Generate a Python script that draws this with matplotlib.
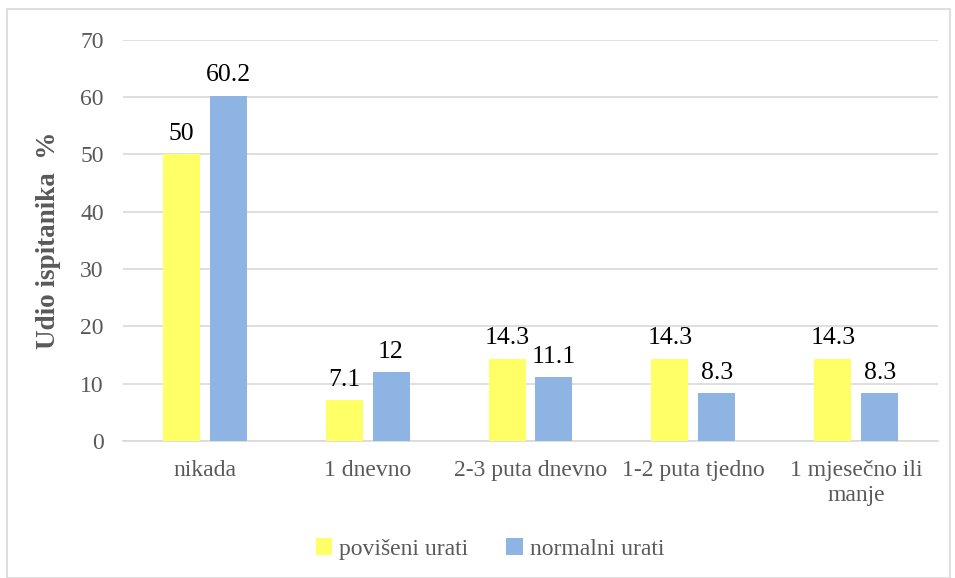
import numpy as np
import matplotlib.pyplot as plt
from matplotlib.patches import Rectangle

plt.rcParams['font.family'] = ['Liberation Serif', 'DejaVu Serif']

kategorije = ['nikada', '1 dnevno', '2-3 puta dnevno', '1-2 puta tjedno', '1 mjesečno ili\nmanje']
poviseni = [50, 7.1, 14.3, 14.3, 14.3]
normalni = [60.2, 12, 11.1, 8.3, 8.3]
oznake_pov = ['50', '7.1', '14.3', '14.3', '14.3']
oznake_nor = ['60.2', '12', '11.1', '8.3', '8.3']

zuta = '#FFFF66'
plava = '#8EB4E3'
siva = '#595959'

fig = plt.figure(figsize=(9.55, 5.78), dpi=100)
ax = fig.add_axes([0.129, 0.237, 0.853, 0.694])

# okvir oko cijele slike
fig.patches.append(Rectangle((0.007, 0.0), 0.988, 0.985, transform=fig.transFigure,
                             fill=False, edgecolor='#D9D9D9', linewidth=1.2))

x = np.arange(len(kategorije))
w = 0.227
off = 0.144
b1 = ax.bar(x - off, poviseni, w, color=zuta, label='povišeni urati', zorder=3)
b2 = ax.bar(x + off, normalni, w, color=plava, label='normalni urati', zorder=3)

for rect, t in zip(b1, oznake_pov):
    ax.annotate(t, (rect.get_x() + rect.get_width() / 2, rect.get_height()),
                xytext=(0, 7), textcoords='offset points', ha='center', va='bottom',
                fontsize=18.5, color='black')
for rect, t in zip(b2, oznake_nor):
    ax.annotate(t, (rect.get_x() + rect.get_width() / 2, rect.get_height()),
                xytext=(0, 7), textcoords='offset points', ha='center', va='bottom',
                fontsize=18.5, color='black')

ax.set_xlim(-0.5, len(kategorije) - 0.5)
ax.set_ylim(0, 70)
ax.set_yticks(range(0, 71, 10))
ax.set_xticks(x)
ax.set_xticklabels(kategorije, fontsize=17, color=siva, linespacing=1.25)
ax.tick_params(axis='y', labelsize=17, labelcolor=siva, length=0, pad=14)
ax.tick_params(axis='x', length=0, pad=14)
ax.yaxis.grid(True, color='#D9D9D9', linewidth=1.2, zorder=0)
ax.set_axisbelow(True)
for s in ['top', 'right', 'left']:
    ax.spines[s].set_visible(False)
ax.spines['bottom'].set_color('#D9D9D9')
ax.spines['bottom'].set_linewidth(1.2)

ax.set_ylabel('Udio ispitanika  %', fontsize=19.5, fontweight='bold', color=siva, labelpad=14)

leg = fig.legend(handles=[b1, b2], loc='center', bbox_to_anchor=(0.513, 0.05), ncol=2,
                 frameon=False, fontsize=17, handlelength=0.7, handleheight=0.7,
                 handletextpad=0.3, columnspacing=1.6)
for t in leg.get_texts():
    t.set_color(siva)

fig.savefig('out.png', dpi=100)
